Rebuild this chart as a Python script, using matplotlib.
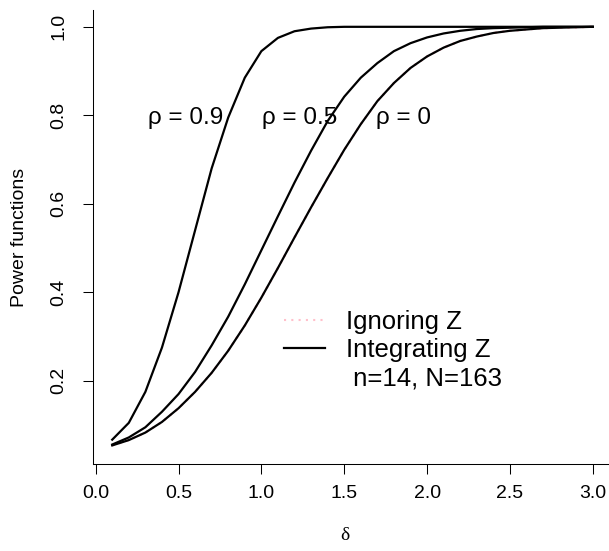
import numpy as np
import matplotlib
matplotlib.use("Agg")
import matplotlib.pyplot as plt
from matplotlib.lines import Line2D

plt.rcParams['font.family'] = ['Liberation Sans', 'DejaVu Sans']

# effect sizes
delta = [0.1, 0.2, 0.3, 0.4, 0.5, 0.6, 0.7, 0.8, 0.9, 1.0,
         1.1, 1.2, 1.3, 1.4, 1.5, 1.6, 1.7, 1.8, 1.9, 2.0,
         2.1, 2.2, 2.3, 2.4, 2.5, 2.6, 2.7, 2.8, 2.9, 3.0]

# power when integrating Z, one curve per correlation
power_rho09 = [0.067, 0.105, 0.175, 0.275, 0.400, 0.540, 0.680, 0.795, 0.885, 0.945,
               0.975, 0.990, 0.996, 0.999, 1.0, 1.0, 1.0, 1.0, 1.0, 1.0,
               1.0, 1.0, 1.0, 1.0, 1.0, 1.0, 1.0, 1.0, 1.0, 1.0]
power_rho05 = [0.056, 0.072, 0.095, 0.130, 0.170, 0.220, 0.280, 0.345, 0.418, 0.495,
               0.572, 0.648, 0.720, 0.787, 0.842, 0.885, 0.918, 0.945, 0.963, 0.976,
               0.985, 0.991, 0.995, 0.997, 0.998, 0.999, 1.0, 1.0, 1.0, 1.0]
power_rho0 = [0.054, 0.066, 0.083, 0.107, 0.138, 0.175, 0.218, 0.268, 0.325, 0.388,
              0.455, 0.524, 0.592, 0.658, 0.722, 0.780, 0.832, 0.873, 0.907, 0.933,
              0.953, 0.968, 0.978, 0.986, 0.991, 0.994, 0.997, 0.998, 0.999, 1.0]
# power when ignoring Z (does not depend on rho)
power_ignore = [0.054, 0.066, 0.083, 0.107, 0.138, 0.175, 0.218, 0.268, 0.325, 0.388,
                0.455, 0.524, 0.592, 0.658, 0.722, 0.780, 0.832, 0.873, 0.907, 0.933,
                0.953, 0.968, 0.978, 0.986, 0.991, 0.994, 0.997, 0.998, 0.999, 1.0]

rho_labels = ["ρ = 0.9", "ρ = 0.5", "ρ = 0"]
rho_label_x = [0.54, 1.23, 1.86]
rho_label_y = 0.793

xticks = [0.0, 0.5, 1.0, 1.5, 2.0, 2.5, 3.0]
yticks = [0.2, 0.4, 0.6, 0.8, 1.0]

W, H = 609, 551
fig = plt.figure(figsize=(W / 100, H / 100), dpi=100)
ax = fig.add_axes([93 / W, (H - 464) / H, (612 - 93) / W, (464 - 10) / H])

for _ in range(3):
    ax.plot(delta, power_ignore, color="pink", lw=1.5, ls=(0, (1, 2.5)))
for p in (power_rho09, power_rho05, power_rho0):
    ax.plot(delta, p, color="black", lw=1.6)

for lab, xx in zip(rho_labels, rho_label_x):
    ax.text(xx, rho_label_y, lab, fontsize=17.5, ha="center", va="center")

ax.set_xlim(-0.016, 3.116)
ax.set_ylim(0.012, 1.038)
ax.set_xticks(xticks)
ax.set_xticklabels([f"{t:.1f}" for t in xticks])
ax.set_yticks(yticks)
ax.set_yticklabels([f"{t:.1f}" for t in yticks])
for lab in ax.get_yticklabels():
    lab.set_rotation(90)
    lab.set_va("center")
ax.tick_params(length=7.2, width=0.75, labelsize=14)
ax.tick_params(axis="x", pad=8)
ax.tick_params(axis="y", pad=11)
for s in ("top", "right"):
    ax.spines[s].set_visible(False)
for s in ("left", "bottom"):
    ax.spines[s].set_linewidth(0.75)

fig.text(20 / W, 1 - 237 / H, "Power functions", rotation=90, fontsize=14,
         ha="center", va="center")
fig.text(345 / W, 1 - 536 / H, "δ", fontsize=14, ha="center", va="center",
         family=["Liberation Serif", "DejaVu Serif"])

handles = [Line2D([], [], color="pink", lw=1.5, ls=(0, (1, 2.5))),
           Line2D([], [], color="black", lw=1.6),
           Line2D([], [], color="none")]
ax.legend(handles, ["Ignoring Z", "Integrating Z", " n=14, N=163"],
          loc="upper left", bbox_to_anchor=(284 / W, 1 - 310 / H),
          bbox_transform=fig.transFigure, frameon=False, fontsize=18.5,
          handlelength=1.6, handletextpad=0.8, labelspacing=0.17,
          borderpad=0, borderaxespad=0)

fig.savefig("out.png", dpi=100)
